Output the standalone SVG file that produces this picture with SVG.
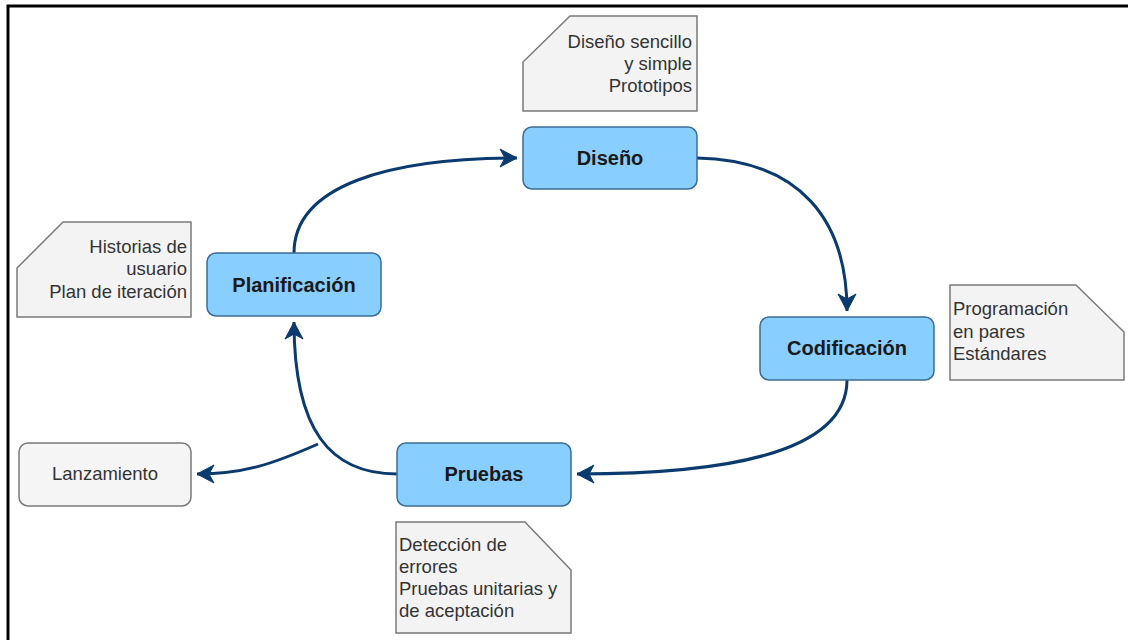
<svg xmlns="http://www.w3.org/2000/svg" width="1128" height="640" viewBox="0 0 1128 640">
<style>
.node{fill:#88CFFF;stroke:#3B6C93;stroke-width:1.5}
.plain{fill:#F5F5F5;stroke:#7A7A7A;stroke-width:1.5}
.note{fill:#F3F3F3;stroke:#7A7A7A;stroke-width:1.5}
.lbl{font-family:"Liberation Sans",Arial,sans-serif;font-size:20px;font-weight:bold;fill:#1A1A1A;text-anchor:middle}
.txt{font-family:"Liberation Sans",Arial,sans-serif;font-size:18.5px;fill:#333333}
.edge{fill:none;stroke:#0B3B6E;stroke-width:3}
</style>
<defs>
<marker id="arr" markerUnits="userSpaceOnUse" markerWidth="24" markerHeight="24" viewBox="-20 -12 22 24" refX="0" refY="0" orient="auto" overflow="visible">
<path d="M0,0 L-17,-9 L-12,0 L-17,9 Z" fill="#0B3B6E" stroke="#0B3B6E" stroke-width="1"/>
</marker>
</defs>
<rect width="1128" height="640" fill="#FFFFFF"/>
<path d="M8,640 L8,6 L1128,6" fill="none" stroke="#000000" stroke-width="3"/>

<g id="connectors">
<path class="edge" d="M294,253 C294,185 390,158 517,158" marker-end="url(#arr)"/>
<path class="edge" d="M697,158 C800,160 847,220 847,311" marker-end="url(#arr)"/>
<path class="edge" d="M847,380 C847,455 720,474 577,474" marker-end="url(#arr)"/>
<path class="edge" d="M397,474 C330,474 294,430 294,322" marker-end="url(#arr)"/>
<path class="edge" d="M318,444 C275,463 245,474 197,474" marker-end="url(#arr)"/>
</g>

<g id="note-diseno">
<path class="note" d="M570,16 L697,16 L697,111 L523,111 L523,62 Z"/>
<text class="txt" text-anchor="end"><tspan x="692" y="48">Diseño sencillo</tspan><tspan x="692" y="70">y simple</tspan><tspan x="692" y="91.5">Prototipos</tspan></text>
</g>
<g id="note-planificacion">
<path class="note" d="M63,222 L191,222 L191,317 L17,317 L17,268 Z"/>
<text class="txt" text-anchor="end"><tspan x="187" y="252.5">Historias de</tspan><tspan x="187" y="275">usuario</tspan><tspan x="187" y="297.5">Plan de iteración</tspan></text>
</g>
<g id="note-codificacion">
<path class="note" d="M950,285 L1076,285 L1124,332 L1124,380 L950,380 Z"/>
<text class="txt"><tspan x="953" y="315">Programación</tspan><tspan x="953" y="337.5">en pares</tspan><tspan x="953" y="360">Estándares</tspan></text>
</g>
<g id="note-pruebas">
<path class="note" d="M396,522 L525,522 L571,570 L571,633 L396,633 Z"/>
<text class="txt"><tspan x="399" y="551">Detección de</tspan><tspan x="399" y="573">errores</tspan><tspan x="399" y="595">Pruebas unitarias y</tspan><tspan x="399" y="617">de aceptación</tspan></text>
</g>

<g id="node-diseno">
<rect class="node" x="523" y="127" width="174" height="62" rx="9"/>
<text class="lbl" x="610" y="165">Diseño</text>
</g>
<g id="node-planificacion">
<rect class="node" x="207" y="253" width="174" height="63" rx="9"/>
<text class="lbl" x="294" y="292">Planificación</text>
</g>
<g id="node-codificacion">
<rect class="node" x="760" y="317" width="174" height="63" rx="9"/>
<text class="lbl" x="847" y="355">Codificación</text>
</g>
<g id="node-pruebas">
<rect class="node" x="397" y="443" width="174" height="63" rx="9"/>
<text class="lbl" x="484" y="481">Pruebas</text>
</g>
<g id="node-lanzamiento">
<rect class="plain" x="19" y="443" width="172" height="63" rx="9"/>
<text class="txt" x="105" y="480" text-anchor="middle">Lanzamiento</text>
</g>
</svg>
